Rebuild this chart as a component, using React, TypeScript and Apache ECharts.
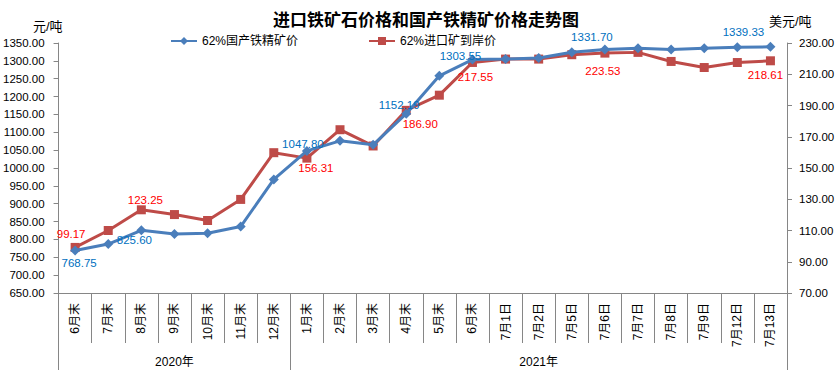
import React, { useEffect, useRef } from 'react';
import * as echarts from 'echarts';

const titleText = '进口铁矿石价格和国产铁精矿价格走势图';
const seriesNames = ['62%国产铁精矿价', '62%进口矿到岸价'];
const categories = ['6月末', '7月末', '8月末', '9月末', '10月末', '11月末', '12月末', '1月末', '2月末', '3月末', '4月末', '5月末', '6月末', '7月1日', '7月2日', '7月5日', '7月6日', '7月7日', '7月8日', '7月9日', '7月12日', '7月13日'];
const yearGroups = ['2020年', '2021年'];
const yearGroupSizes = [7, 15];
// 元/吨 (left axis)
const domesticPrice = [768.75, 787.0, 825.60, 815.5, 817.5, 836.0, 968.0, 1047.80, 1076.0, 1065.0, 1152.19, 1258.0, 1303.55, 1305.0, 1308.0, 1324.0, 1331.70, 1335.0, 1332.0, 1335.5, 1338.0, 1339.33];
// 美元/吨 (right axis)
const importPrice = [99.17, 110.0, 123.25, 120.2, 116.4, 129.9, 159.8, 156.31, 174.5, 164.1, 186.90, 196.6, 217.55, 219.7, 219.7, 222.5, 223.53, 224.0, 218.2, 214.3, 217.5, 218.61];
const leftAxisRange = [650, 1350, 50];
const rightAxisRange = [70, 230, 20];
const leftUnit = '元/吨';
const rightUnit = '美元/吨';

// label placement (styling, not data)
const domesticLabelIdx = [0, 2, 7, 10, 12, 16, 21];
const domesticLabelOffset = [[4, 12], [-7, 10], [-4, -7], [-7, -9], [-12, -4], [-13, -13], [-27, -15]];
const importLabelIdx = [0, 2, 7, 10, 12, 16, 21];
const importLabelOffset = [[-4, -13], [4, -10], [9, 10], [14, 14], [3, 15], [-2, 18], [-5, 14]];

const FONT = "'Liberation Sans', 'Noto Sans CJK SC', sans-serif";
const AXIS_COLOR = '#868686';

function buildData(values: number[], idx: number[], offs: number[][], color: string) {
  return values.map((v, i) => {
    const k = idx.indexOf(i);
    if (k < 0) return { value: v };
    return {
      value: v,
      label: {
        show: true,
        position: 'inside',
        offset: offs[k],
        color,
        fontSize: 11.5,
        fontFamily: FONT,
        formatter: (p: any) => Number(p.value).toFixed(2),
      },
    };
  });
}

export default function App() {
  const ref = useRef<HTMLDivElement>(null);
  useEffect(() => {
    if (!ref.current) return;
    const chart = echarts.init(ref.current, null, { renderer: 'svg' });

    const yearAxisData: string[] = new Array(categories.length).fill('');
    const groupStarts: number[] = [];
    let s = 0;
    yearGroups.forEach((g, i) => {
      groupStarts.push(s);
      yearAxisData[s + Math.floor((yearGroupSizes[i] - 1) / 2)] = g;
      s += yearGroupSizes[i];
    });

    chart.setOption({
      animation: false,
      textStyle: { fontFamily: FONT },
      title: {
        text: titleText,
        left: 268,
        top: 5,
        textStyle: { fontSize: 17, fontWeight: 'bold', color: '#000', fontFamily: "'Noto Sans CJK SC', sans-serif" },
      },
      legend: {
        data: seriesNames,
        left: 165,
        top: 30,
        itemWidth: 26,
        itemHeight: 10,
        itemGap: 70,
        textStyle: { fontSize: 12, color: '#000', fontFamily: FONT },
      },
      grid: { left: 58, right: 51, top: 43, height: 250, containLabel: false },
      xAxis: [
        {
          type: 'category',
          data: categories,
          boundaryGap: true,
          position: 'bottom',
          axisLine: { show: true, lineStyle: { color: AXIS_COLOR, width: 1 } },
          axisTick: { show: true, interval: 0, length: 50, lineStyle: { color: AXIS_COLOR } },
          axisLabel: { interval: 0, rotate: 90, margin: 10, fontSize: 12, color: '#000', fontFamily: FONT },
          splitLine: { show: false },
        },
        {
          type: 'category',
          data: yearAxisData,
          boundaryGap: true,
          position: 'bottom',
          offset: 50,
          axisLine: { show: false },
          axisTick: {
            show: true,
            length: 27,
            interval: (index: number) => groupStarts.indexOf(index) >= 0,
            lineStyle: { color: AXIS_COLOR },
          },
          axisLabel: { interval: 0, margin: 13, fontSize: 12, color: '#000', fontFamily: FONT },
          splitLine: { show: false },
        },
      ],
      yAxis: [
        {
          type: 'value',
          min: leftAxisRange[0],
          max: leftAxisRange[1],
          interval: leftAxisRange[2],
          position: 'left',
          axisLine: { show: true, lineStyle: { color: AXIS_COLOR } },
          axisTick: { show: true, length: 5, lineStyle: { color: AXIS_COLOR } },
          axisLabel: { formatter: (v: number) => v.toFixed(2), margin: 14, fontSize: 11.5, color: '#000', fontFamily: FONT },
          splitLine: { show: false },
        },
        {
          type: 'value',
          min: rightAxisRange[0],
          max: rightAxisRange[1],
          interval: rightAxisRange[2],
          position: 'right',
          axisLine: { show: true, lineStyle: { color: AXIS_COLOR } },
          axisTick: { show: true, length: 5, lineStyle: { color: AXIS_COLOR } },
          axisLabel: { formatter: (v: number) => v.toFixed(2), margin: 12, fontSize: 11.5, color: '#000', fontFamily: FONT },
          splitLine: { show: false },
        },
      ],
      graphic: [
        { type: 'text', left: 33, top: 20, style: { text: leftUnit, fill: '#000', font: `13px ${FONT}` } },
        { type: 'text', left: 769, top: 15, style: { text: rightUnit, fill: '#000', font: `13px ${FONT}` } },
      ],
      series: [
        {
          name: seriesNames[0],
          type: 'line',
          xAxisIndex: 0,
          yAxisIndex: 0,
          data: buildData(domesticPrice, domesticLabelIdx, domesticLabelOffset, '#0070C0'),
          symbol: 'diamond',
          symbolSize: 10,
          lineStyle: { color: '#4A7EBB', width: 3 },
          itemStyle: { color: '#4A7EBB' },
          z: 3,
        },
        {
          name: seriesNames[1],
          type: 'line',
          xAxisIndex: 0,
          yAxisIndex: 1,
          data: buildData(importPrice, importLabelIdx, importLabelOffset, '#FF0000'),
          symbol: 'rect',
          symbolSize: 9,
          lineStyle: { color: '#BE4B48', width: 3 },
          itemStyle: { color: '#BE4B48' },
          z: 2,
        },
      ],
    });
    return () => chart.dispose();
  }, []);

  return <div ref={ref} style={{ position: 'absolute', left: 0, top: 0, width: 838, height: 372 }} />;
}
